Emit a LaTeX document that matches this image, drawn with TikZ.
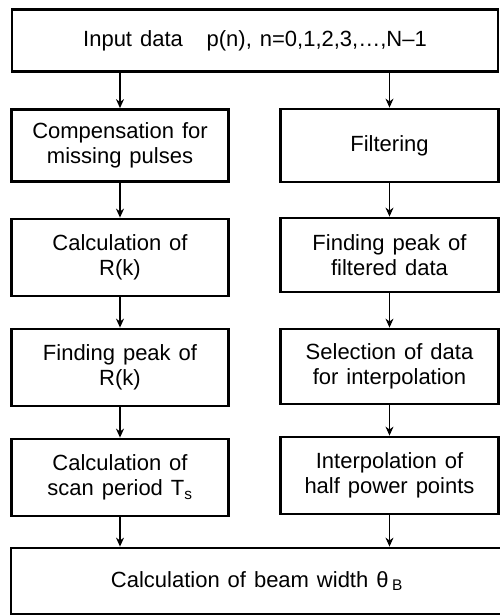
\documentclass[tikz,border=0pt]{standalone}
\usepackage{fontspec}
\setmainfont{Liberation Sans}[WordSpace={1.3}]
\usetikzlibrary{arrows.meta}
\begin{document}
\begin{tikzpicture}[x=1pt,y=-1pt,
  box/.style={draw=black, line width=2.8pt, fill=white, inner sep=0pt, align=center,
    font=\fontsize{22}{25.5}\selectfont},
  lbox/.style={box, minimum width=217pt},
  rbox/.style={box, minimum width=218pt},
  arr/.style={line width=1.2pt, -{Stealth[length=9pt,width=8pt]}}]
\useasboundingbox (0,0) rectangle (500,616);
\node[box, minimum width=486pt, minimum height=62pt] (top) at (255,40.5)
  {Input data \ \ p(n), n=0,1,2,3,…,N–1};
\node[lbox, minimum height=72pt] (l1) at (120,145.5) {Compensation for\\missing pulses};
\node[lbox, minimum height=77pt] (l2) at (120,257.5) {Calculation of\\R(k)};
\node[lbox, minimum height=77pt] (l3) at (120,367.5) {Finding peak of\\R(k)};
\node[lbox, minimum height=77pt] (l4) at (120,477.5) {Calculation of\\scan period T\textsubscript{s}};
\node[rbox, minimum height=73pt] (r1) at (389.5,145.5) {Filtering};
\node[rbox, minimum height=74pt] (r2) at (389.5,255) {Finding peak of\\filtered data};
\node[rbox, minimum height=75pt] (r3) at (389.5,366.5) {Selection of data\\for interpolation};
\node[rbox, minimum height=77pt] (r4) at (389.5,475.5) {Interpolation of\\half power points};
\node[box, minimum width=492pt, minimum height=66pt] (bot) at (257,581)
  {Calculation of beam width θ\,\textsubscript{B}};
\draw[arr] (l1.north |- top.south) -- (l1.north);
\draw[arr] (l1) -- (l2);
\draw[arr] (l2) -- (l3);
\draw[arr] (l3) -- (l4);
\draw[arr] (l4.south) -- (l4.south |- bot.north);
\draw[arr] (r1.north |- top.south) -- (r1.north);
\draw[arr] (r1) -- (r2);
\draw[arr] (r2) -- (r3);
\draw[arr] (r3) -- (r4);
\draw[arr] (r4.south) -- (r4.south |- bot.north);
\end{tikzpicture}
\end{document}
